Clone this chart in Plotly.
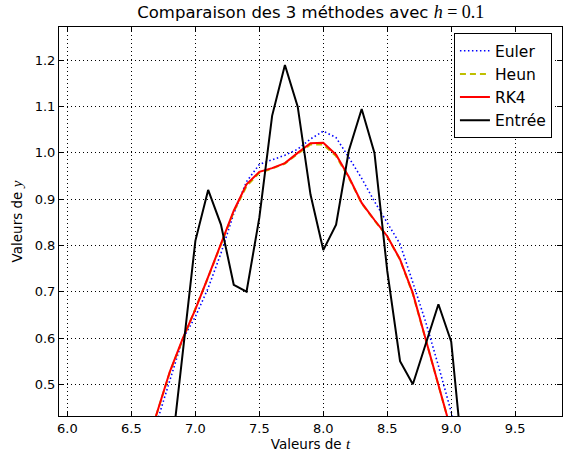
import plotly.graph_objects as go

t = [6.6, 6.7, 6.8, 6.9, 7.0, 7.1, 7.2, 7.3, 7.4, 7.5, 7.6, 7.7, 7.8,
     7.9, 8.0, 8.1, 8.2, 8.3, 8.4, 8.5, 8.6, 8.7, 8.8, 8.9, 9.0, 9.1]

euler = [0.33, 0.42, 0.51, 0.597, 0.646, 0.708, 0.783, 0.869, 0.938, 0.975,
         0.985, 0.995, 1.008, 1.030, 1.047, 1.033, 0.990, 0.945, 0.895, 0.848,
         0.803, 0.720, 0.635, 0.540, 0.440, 0.340]

heun = [0.35, 0.44, 0.526, 0.596, 0.662, 0.731, 0.802, 0.873, 0.928, 0.957,
        0.966, 0.977, 0.998, 1.018, 1.018, 0.993, 0.946, 0.891, 0.854, 0.819,
        0.769, 0.695, 0.597, 0.498, 0.400, 0.300]

rk4 = [0.35, 0.44, 0.527, 0.598, 0.662, 0.732, 0.803, 0.875, 0.932, 0.959,
       0.967, 0.978, 1.000, 1.021, 1.022, 0.996, 0.948, 0.892, 0.855, 0.820,
       0.770, 0.697, 0.598, 0.499, 0.400, 0.300]

t_entree = t[2:]
entree = [0.32, 0.57, 0.81, 0.92, 0.845, 0.715, 0.70, 0.86, 1.08, 1.19, 1.10,
          0.91, 0.79, 0.845, 1.005, 1.095, 1.0, 0.745, 0.55, 0.50, 0.586,
          0.673, 0.592, 0.31]

x_ticks = [6.0, 6.5, 7.0, 7.5, 8.0, 8.5, 9.0, 9.5]
y_ticks = [0.5, 0.6, 0.7, 0.8, 0.9, 1.0, 1.1, 1.2]

SERIF = "Liberation Serif"
FONT = "DejaVu Sans"

fig = go.Figure()
fig.add_trace(go.Scatter(x=t, y=euler, mode="lines", name="Euler",
                         line=dict(color="#0000ff", width=1.6, dash="1.5px,2.5px")))
fig.add_trace(go.Scatter(x=t, y=heun, mode="lines", name="Heun",
                         line=dict(color="#bfbf00", width=2, dash="6px,4px")))
fig.add_trace(go.Scatter(x=t, y=rk4, mode="lines", name="RK4",
                         line=dict(color="#ff0000", width=2)))
fig.add_trace(go.Scatter(x=t_entree, y=entree, mode="lines", name="Entrée",
                         line=dict(color="#000000", width=2)))

axis_common = dict(
    showline=True, linecolor="black", linewidth=1, mirror="ticks",
    ticks="inside", ticklen=5, tickcolor="black", tickwidth=1,
    showgrid=True, gridcolor="black", gridwidth=0.6, griddash="1px,3px",
    zeroline=False, tickfont=dict(family=FONT, size=13, color="black"),
)

fig.update_xaxes(range=[5.934, 9.866], tickvals=x_ticks,
                 ticktext=[f"{v:.1f}" for v in x_ticks],
                 title=dict(text=f"Valeurs de <span style=\"font-family:{SERIF};font-size:15px\"><i>t</i></span>",
                            font=dict(family=FONT, size=13.5, color="black"), standoff=4),
                 **axis_common)
fig.update_yaxes(range=[0.4315, 1.272], tickvals=y_ticks,
                 ticktext=[f"{v:.1f}" for v in y_ticks],
                 title=dict(text=f"Valeurs de <span style=\"font-family:{SERIF};font-size:15px\"><i>y</i></span>",
                            font=dict(family=FONT, size=13.5, color="black"), standoff=8),
                 **axis_common)

fig.update_layout(
    width=563, height=454,
    margin=dict(l=59, r=1, t=27, b=38),
    paper_bgcolor="white", plot_bgcolor="white",
    title=dict(text=f"Comparaison des 3 méthodes avec <span style=\"font-family:{SERIF};font-size:18px\"><i>h</i> = 0.1</span>",
               font=dict(family=FONT, size=16.5, color="black"),
               x=0.552, xanchor="center", y=0.972, yanchor="middle"),
    legend=dict(x=0.98, y=0.984, xanchor="right", yanchor="top",
                bgcolor="white", bordercolor="black", borderwidth=1,
                font=dict(family=FONT, size=15.5, color="black"),
                tracegroupgap=0, itemwidth=30),
    showlegend=True,
)

fig.write_html("out.html")
